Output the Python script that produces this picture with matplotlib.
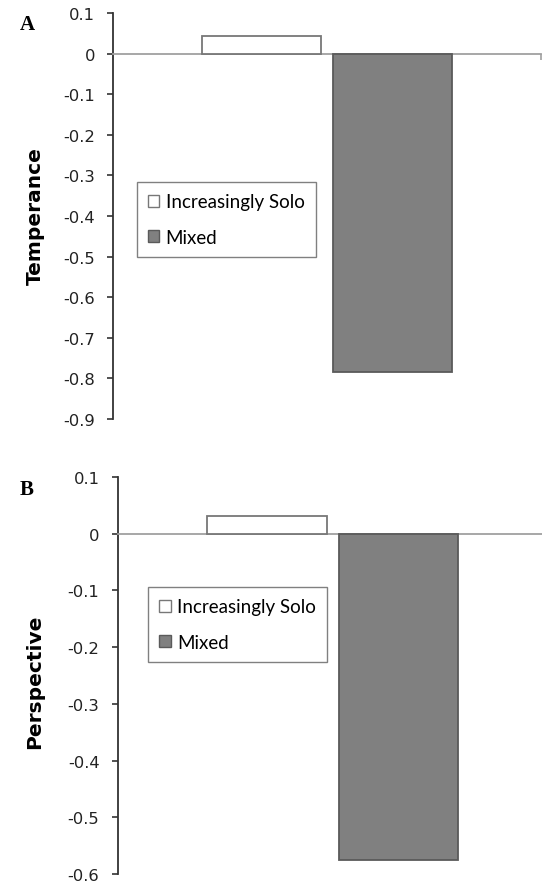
import matplotlib
matplotlib.use("Agg")
import matplotlib.pyplot as plt
from matplotlib.patches import Patch

# ---- data ----
groups = ["Increasingly Solo", "Mixed"]
temperance = [0.043, -0.785]
perspective = [0.031, -0.575]
ticks_a = [0.1, 0, -0.1, -0.2, -0.3, -0.4, -0.5, -0.6, -0.7, -0.8, -0.9]
ticks_b = [0.1, 0, -0.1, -0.2, -0.3, -0.4, -0.5, -0.6]
tick_labels_a = ["0.1", "0", "-0.1", "-0.2", "-0.3", "-0.4", "-0.5", "-0.6", "-0.7", "-0.8", "-0.9"]
tick_labels_b = ["0.1", "0", "-0.1", "-0.2", "-0.3", "-0.4", "-0.5", "-0.6"]

plt.rcParams['axes.unicode_minus'] = False
W, H = 542, 895
fig = plt.figure(figsize=(W / 100, H / 100), dpi=100)

face = ["white", "#808080"]
edge = ["#777777", "#5a5a5a"]
bar_w = 0.278
gap = 0.028


def px_axes(left, right, top, bottom):
    return fig.add_axes([left / W, 1 - bottom / H, (right - left) / W, (bottom - top) / H])


def panel(ax, values, ticks, labels, ylim):
    offs = [-(bar_w + gap) / 2, (bar_w + gap) / 2]
    for i, v in enumerate(values):
        ax.bar(0.5 + offs[i], v, width=bar_w, color=face[i], edgecolor=edge[i],
               linewidth=1.3, zorder=3)
    ax.set_xlim(0, 1)
    ax.set_ylim(*ylim)
    ax.set_yticks(ticks)
    ax.set_yticklabels(labels, fontsize=11.8, family=["DejaVu Sans"], color="#222222")
    for s in ["top", "right"]:
        ax.spines[s].set_visible(False)
    ax.spines["left"].set_color("#333333")
    ax.spines["left"].set_linewidth(1.3)
    ax.spines["bottom"].set_position(("data", 0))
    ax.spines["bottom"].set_color("#a0a0a0")
    ax.spines["bottom"].set_linewidth(1.3)
    ax.tick_params(axis="y", direction="out", length=4, width=1.2, color="#333333", pad=9)
    ax.set_xticks([0, 1])
    ax.set_xticklabels([])
    ax.tick_params(axis="x", direction="out", length=4, width=1.2, color="#a0a0a0")
    handles = [Patch(facecolor=face[i], edgecolor=edge[i], linewidth=1.0, label=groups[i])
               for i in range(2)]
    return handles


axA = px_axes(113, 541, 14, 420)
hA = panel(axA, temperance, ticks_a, tick_labels_a, (-0.9, 0.1))
axB = px_axes(117.5, 548, 478, 875)
hB = panel(axB, perspective, ticks_b, tick_labels_b, (-0.6, 0.1))

legkw = dict(loc="upper left", bbox_transform=fig.transFigure, frameon=True, fancybox=False,
             edgecolor="#808080", framealpha=1, handlelength=0.6, handleheight=0.6,
             handletextpad=0.35, labelspacing=1.0, borderpad=0.6, borderaxespad=0,
             prop={"family": ["Lato", "DejaVu Sans"], "size": 13.5})
lA = axA.legend(handles=hA, bbox_to_anchor=(136.5 / W, 1 - 183 / H), **legkw)
lA.get_frame().set_linewidth(1.0)
lB = axB.legend(handles=hB, bbox_to_anchor=(148 / W, 1 - 588 / H), **legkw)
lB.get_frame().set_linewidth(1.0)

lab_font = ["Liberation Sans Narrow", "DejaVu Sans"]
fig.text(35 / W, 1 - 216 / H, "Temperance", rotation=90, ha="center", va="center",
         fontsize=14.5, fontweight="bold", family=lab_font)
fig.text(35 / W, 1 - 682 / H, "Perspective", rotation=90, ha="center", va="center",
         fontsize=14.5, fontweight="bold", family=lab_font)

fig.text(27 / W, 1 - 25 / H, "A", ha="center", va="center", fontsize=15, fontweight="bold",
         family=["Liberation Serif", "DejaVu Serif"])
fig.text(27 / W, 1 - 490 / H, "B", ha="center", va="center", fontsize=15, fontweight="bold",
         family=["Liberation Serif", "DejaVu Serif"])

fig.savefig("out.png", dpi=100)
